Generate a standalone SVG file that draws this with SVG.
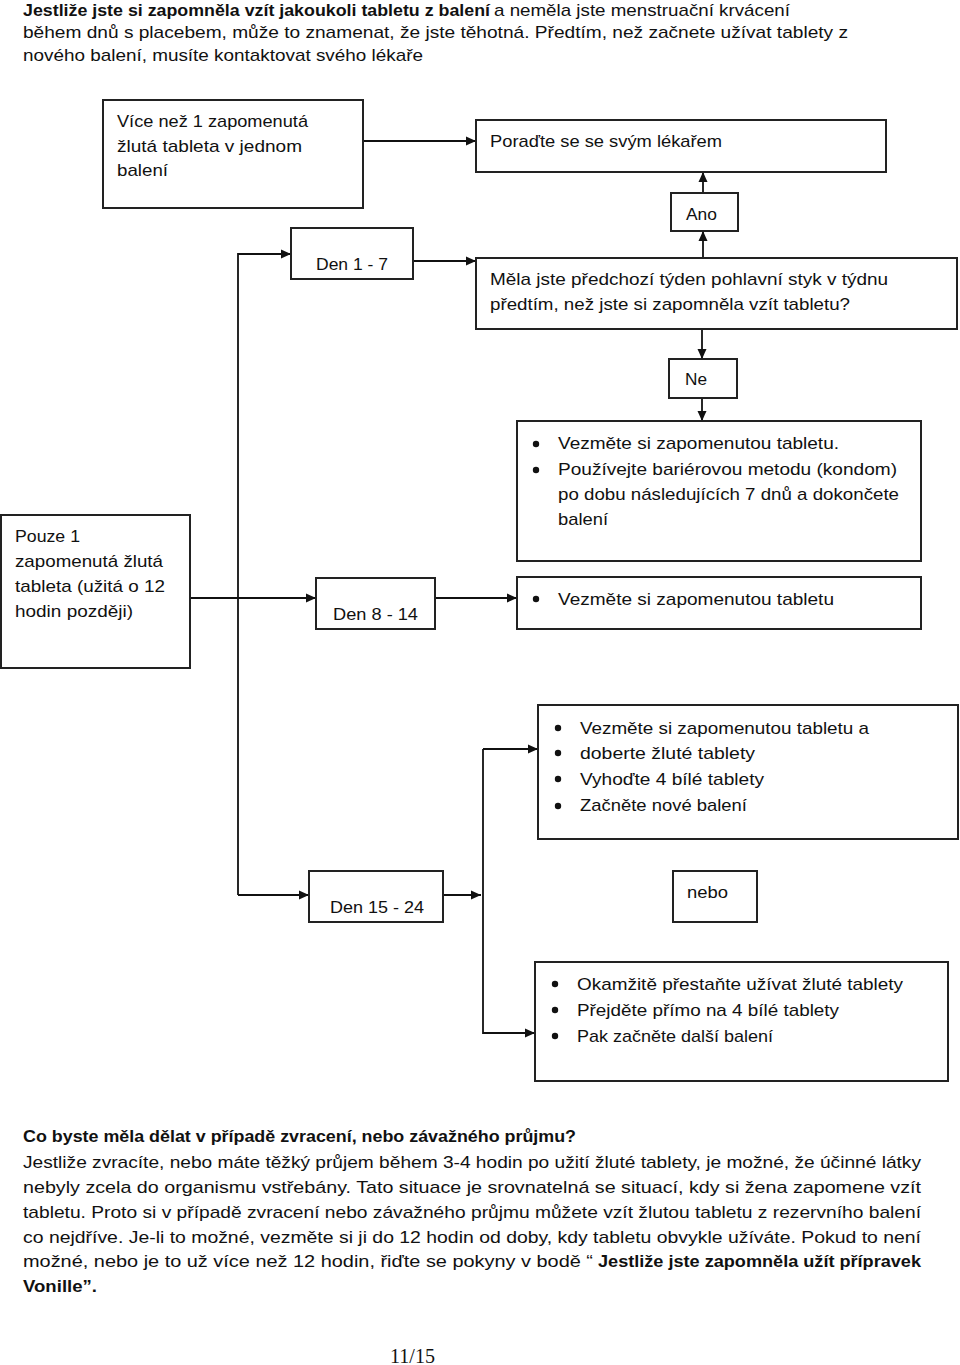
<svg xmlns="http://www.w3.org/2000/svg" width="960" height="1365" viewBox="0 0 960 1365">
<style>
text{font-family:"Liberation Sans",Arial,sans-serif;font-size:17px;fill:#111;}
.b{font-weight:bold;}
.box{fill:#fff;stroke:#222;stroke-width:2;}
.c{fill:none;stroke:#111;stroke-width:1.8;}
.pg{font-family:"Liberation Serif","Times New Roman",serif;font-size:20px;}
</style>
<defs>
<marker id="ah" viewBox="0 0 10 10" refX="10" refY="5" markerWidth="12" markerHeight="10" markerUnits="userSpaceOnUse" orient="auto"><path d="M0,0.5 L10,5 L0,9.5 z" fill="#111"/></marker>
</defs>
<rect width="960" height="1365" fill="#fff"/>

<g id="intro">
<text x="23" y="16" class="b" textLength="467" lengthAdjust="spacingAndGlyphs">Jestliže jste si zapomněla vzít jakoukoli tabletu z balení</text>
<text x="494" y="16" textLength="296" lengthAdjust="spacingAndGlyphs">a neměla jste menstruační krvácení</text>
<text x="23" y="38" textLength="825" lengthAdjust="spacingAndGlyphs">během dnů s placebem, může to znamenat, že jste těhotná. Předtím, než začnete užívat tablety z</text>
<text x="23" y="61" textLength="400" lengthAdjust="spacingAndGlyphs">nového balení, musíte kontaktovat svého lékaře</text>
</g>

<g id="connectors">
<path class="c" d="M363,141 H476" marker-end="url(#ah)"/>
<path class="c" d="M703,193 V172" marker-end="url(#ah)"/>
<path class="c" d="M703,269 V231" marker-end="url(#ah)"/>
<path class="c" d="M238,895 V254 H291" marker-end="url(#ah)"/>
<path class="c" d="M238,895 H309" marker-end="url(#ah)"/>
<path class="c" d="M413,261 H476" marker-end="url(#ah)"/>
<path class="c" d="M702,329 V359" marker-end="url(#ah)"/>
<path class="c" d="M702,398 V421" marker-end="url(#ah)"/>
<path class="c" d="M190,598 H316" marker-end="url(#ah)"/>
<path class="c" d="M435,598 H517" marker-end="url(#ah)"/>
<path class="c" d="M443,895 H481" marker-end="url(#ah)"/>
<path class="c" d="M483,749 V1034"/>
<path class="c" d="M483,749 H538" marker-end="url(#ah)"/>
<path class="c" d="M483,1033 H535" marker-end="url(#ah)"/>
</g>

<g id="more-than-one">
<rect class="box" x="103" y="100" width="260" height="108"/>
<text x="117" y="127" textLength="191" lengthAdjust="spacingAndGlyphs">Více než 1 zapomenutá</text>
<text x="117" y="152" textLength="185" lengthAdjust="spacingAndGlyphs">žlutá tableta v jednom</text>
<text x="117" y="176" textLength="51" lengthAdjust="spacingAndGlyphs">balení</text>
</g>

<g id="consult">
<rect class="box" x="476" y="120" width="410" height="52"/>
<text x="490" y="147" textLength="232" lengthAdjust="spacingAndGlyphs">Poraďte se se svým lékařem</text>
</g>

<g id="ano">
<rect class="box" x="671" y="193" width="67" height="38"/>
<text x="686" y="220" textLength="31" lengthAdjust="spacingAndGlyphs">Ano</text>
</g>

<g id="day1-7">
<rect class="box" x="291" y="228" width="122" height="51"/>
<text x="316" y="270" textLength="72" lengthAdjust="spacingAndGlyphs">Den 1 - 7</text>
</g>

<g id="question">
<rect class="box" x="476" y="258" width="481" height="71"/>
<text x="490" y="285" textLength="398" lengthAdjust="spacingAndGlyphs">Měla jste předchozí týden pohlavní styk v týdnu</text>
<text x="490" y="310" textLength="360" lengthAdjust="spacingAndGlyphs">předtím, než jste si zapomněla vzít tabletu?</text>
</g>

<g id="ne">
<rect class="box" x="669" y="359" width="68" height="39"/>
<text x="685" y="385" textLength="22" lengthAdjust="spacingAndGlyphs">Ne</text>
</g>

<g id="no-action">
<rect class="box" x="517" y="421" width="404" height="140"/>
<circle cx="536" cy="444" r="3.2" fill="#111"/>
<circle cx="536" cy="470" r="3.2" fill="#111"/>
<text x="558" y="449" textLength="281" lengthAdjust="spacingAndGlyphs">Vezměte si zapomenutou tabletu.</text>
<text x="558" y="475" textLength="339" lengthAdjust="spacingAndGlyphs">Používejte bariérovou metodu (kondom)</text>
<text x="558" y="500" textLength="341" lengthAdjust="spacingAndGlyphs">po dobu následujících 7 dnů a dokončete</text>
<text x="558" y="525" textLength="50" lengthAdjust="spacingAndGlyphs">balení</text>
</g>

<g id="only-one">
<rect class="box" x="1" y="515" width="189" height="153"/>
<text x="15" y="542" textLength="65" lengthAdjust="spacingAndGlyphs">Pouze 1</text>
<text x="15" y="567" textLength="148" lengthAdjust="spacingAndGlyphs">zapomenutá žlutá</text>
<text x="15" y="592" textLength="150" lengthAdjust="spacingAndGlyphs">tableta (užitá o 12</text>
<text x="15" y="617" textLength="118" lengthAdjust="spacingAndGlyphs">hodin později)</text>
</g>

<g id="day8-14">
<rect class="box" x="316" y="578" width="119" height="51"/>
<text x="333" y="620" textLength="85" lengthAdjust="spacingAndGlyphs">Den 8 - 14</text>
</g>

<g id="take-tablet">
<rect class="box" x="517" y="577" width="404" height="52"/>
<circle cx="536" cy="599" r="3.2" fill="#111"/>
<text x="558" y="605" textLength="276" lengthAdjust="spacingAndGlyphs">Vezměte si zapomenutou tabletu</text>
</g>

<g id="option-a">
<rect class="box" x="538" y="705" width="420" height="134"/>
<circle cx="558" cy="728" r="3.2" fill="#111"/>
<circle cx="558" cy="753" r="3.2" fill="#111"/>
<circle cx="558" cy="779" r="3.2" fill="#111"/>
<circle cx="558" cy="806" r="3.2" fill="#111"/>
<text x="580" y="734" textLength="289" lengthAdjust="spacingAndGlyphs">Vezměte si zapomenutou tabletu a</text>
<text x="580" y="759" textLength="175" lengthAdjust="spacingAndGlyphs">doberte žluté tablety</text>
<text x="580" y="785" textLength="184" lengthAdjust="spacingAndGlyphs">Vyhoďte 4 bílé tablety</text>
<text x="580" y="811" textLength="167" lengthAdjust="spacingAndGlyphs">Začněte nové balení</text>
</g>

<g id="day15-24">
<rect class="box" x="309" y="871" width="134" height="51"/>
<text x="330" y="913" textLength="94" lengthAdjust="spacingAndGlyphs">Den 15 - 24</text>
</g>

<g id="nebo">
<rect class="box" x="673" y="871" width="84" height="51"/>
<text x="687" y="898" textLength="41" lengthAdjust="spacingAndGlyphs">nebo</text>
</g>

<g id="option-b">
<rect class="box" x="535" y="962" width="413" height="119"/>
<circle cx="555" cy="984" r="3.2" fill="#111"/>
<circle cx="555" cy="1010" r="3.2" fill="#111"/>
<circle cx="555" cy="1036" r="3.2" fill="#111"/>
<text x="577" y="990" textLength="326" lengthAdjust="spacingAndGlyphs">Okamžitě přestaňte užívat žluté tablety</text>
<text x="577" y="1016" textLength="262" lengthAdjust="spacingAndGlyphs">Přejděte přímo na 4 bílé tablety</text>
<text x="577" y="1042" textLength="196" lengthAdjust="spacingAndGlyphs">Pak začněte další balení</text>
</g>

<g id="vomiting">
<text x="23" y="1142" class="b" textLength="553" lengthAdjust="spacingAndGlyphs">Co byste měla dělat v případě zvracení, nebo závažného průjmu?</text>
<text x="23" y="1168" textLength="898" lengthAdjust="spacingAndGlyphs">Jestliže zvracíte, nebo máte těžký průjem během 3-4 hodin po užití žluté tablety, je možné, že účinné látky</text>
<text x="23" y="1193" textLength="898" lengthAdjust="spacingAndGlyphs">nebyly zcela do organismu vstřebány. Tato situace je srovnatelná se situací, kdy si žena zapomene vzít</text>
<text x="23" y="1218" textLength="898" lengthAdjust="spacingAndGlyphs">tabletu. Proto si v případě zvracení nebo závažného průjmu můžete vzít žlutou tabletu z rezervního balení</text>
<text x="23" y="1243" textLength="898" lengthAdjust="spacingAndGlyphs">co nejdříve. Je-li to možné, vezměte si ji do 12 hodin od doby, kdy tabletu obvykle užíváte. Pokud to není</text>
<text x="23" y="1267" textLength="570" lengthAdjust="spacingAndGlyphs">možné, nebo je to už více než 12 hodin, řiďte se pokyny v bodě “</text>
<text x="598" y="1267" class="b" textLength="323" lengthAdjust="spacingAndGlyphs">Jestliže jste zapomněla užít přípravek</text>
<text x="23" y="1292" class="b" textLength="74" lengthAdjust="spacingAndGlyphs">Vonille”.</text>
</g>

<g id="page-number">
<text x="390" y="1363" class="pg" textLength="45" lengthAdjust="spacingAndGlyphs">11/15</text>
</g>
</svg>
